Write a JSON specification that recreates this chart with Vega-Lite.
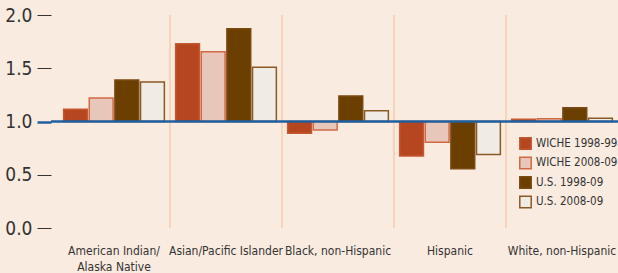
{
  "$schema": "https://vega.github.io/schema/vega-lite/v6.json",
  "width": 567,
  "height": 213,
  "autosize": {"type": "none"},
  "padding": {"left": 51, "top": 15, "right": 0, "bottom": 45},
  "background": "#FAEBE0",
  "config": {
    "view": {"stroke": null},
    "font": "DejaVu Sans Condensed, DejaVu Sans, sans-serif"
  },
  "datasets": {
    "bars": [
      {"group": "American Indian/Alaska Native", "series": "WICHE 1998-99", "value": 1.115},
      {"group": "American Indian/Alaska Native", "series": "WICHE 2008-09", "value": 1.22},
      {"group": "American Indian/Alaska Native", "series": "U.S. 1998-09", "value": 1.39},
      {"group": "American Indian/Alaska Native", "series": "U.S. 2008-09", "value": 1.37},
      {"group": "Asian/Pacific Islander", "series": "WICHE 1998-99", "value": 1.73},
      {"group": "Asian/Pacific Islander", "series": "WICHE 2008-09", "value": 1.655},
      {"group": "Asian/Pacific Islander", "series": "U.S. 1998-09", "value": 1.87},
      {"group": "Asian/Pacific Islander", "series": "U.S. 2008-09", "value": 1.51},
      {"group": "Black, non-Hispanic", "series": "WICHE 1998-99", "value": 0.89},
      {"group": "Black, non-Hispanic", "series": "WICHE 2008-09", "value": 0.92},
      {"group": "Black, non-Hispanic", "series": "U.S. 1998-09", "value": 1.24},
      {"group": "Black, non-Hispanic", "series": "U.S. 2008-09", "value": 1.10},
      {"group": "Hispanic", "series": "WICHE 1998-99", "value": 0.676},
      {"group": "Hispanic", "series": "WICHE 2008-09", "value": 0.805},
      {"group": "Hispanic", "series": "U.S. 1998-09", "value": 0.557},
      {"group": "Hispanic", "series": "U.S. 2008-09", "value": 0.69},
      {"group": "White, non-Hispanic", "series": "WICHE 1998-99", "value": 1.02},
      {"group": "White, non-Hispanic", "series": "WICHE 2008-09", "value": 1.025},
      {"group": "White, non-Hispanic", "series": "U.S. 1998-09", "value": 1.13},
      {"group": "White, non-Hispanic", "series": "U.S. 2008-09", "value": 1.03}
    ],
    "separators": [
      {"group": "Asian/Pacific Islander"},
      {"group": "Black, non-Hispanic"},
      {"group": "Hispanic"},
      {"group": "White, non-Hispanic"}
    ],
    "baseline": [{"ratio": 1}]
  },
  "layer": [
    {
      "data": {"name": "bars"},
      "mark": {"type": "bar", "strokeWidth": 1.5},
      "encoding": {
        "x": {
          "field": "group",
          "type": "nominal",
          "sort": null,
          "scale": {"paddingInner": 0, "paddingOuter": 0.03125, "align": 1},
          "axis": {
            "title": null,
            "labelAngle": 0,
            "bandPosition": 0.5,
            "domain": false,
            "ticks": false,
            "labelPadding": 26,
            "labelFontSize": 12,
            "labelColor": "#333333",
            "labelLineHeight": 16,
            "labelBaseline": "alphabetic",
            "labelAlign": "center",
            "labelExpr": "datum.value == 'American Indian/Alaska Native' ? ['American Indian/', 'Alaska Native'] : datum.label"
          }
        },
        "xOffset": {
          "field": "series",
          "type": "nominal",
          "sort": ["WICHE 1998-99", "WICHE 2008-09", "U.S. 1998-09", "U.S. 2008-09"],
          "scale": {"paddingInner": 0.07, "paddingOuter": 0.22}
        },
        "y": {
          "field": "value",
          "type": "quantitative",
          "scale": {"domain": [0, 2]},
          "axis": {
            "title": null,
            "values": [0, 0.5, 1, 1.5, 2],
            "format": ".1f",
            "domain": false,
            "grid": false,
            "tickSize": 14,
            "tickColor": {"condition": {"test": "datum.value == 1", "value": "#1F5FA0"}, "value": "#333333"},
            "tickWidth": {"condition": {"test": "datum.value == 1", "value": 2.5}, "value": 1},
            "labelPadding": 5,
            "labelFontSize": 19,
            "labelColor": "#333333"
          }
        },
        "y2": {"datum": 1},
        "fill": {
          "field": "series",
          "type": "nominal",
          "sort": ["WICHE 1998-99", "WICHE 2008-09", "U.S. 1998-09", "U.S. 2008-09"],
          "scale": {
            "domain": ["WICHE 1998-99", "WICHE 2008-09", "U.S. 1998-09", "U.S. 2008-09"],
            "range": ["#B5461F", "#E9C6BA", "#6B3F00", "#F0EBE4"]
          },
          "legend": {
            "title": null,
            "orient": "none",
            "legendX": 468,
            "legendY": 122,
            "symbolType": "square",
            "symbolSize": 130,
            "symbolStrokeWidth": 1.5,
            "labelFontSize": 11.5,
            "labelColor": "#333333",
            "rowPadding": 0.5,
            "labelOffset": 4
          }
        },
        "stroke": {
          "field": "series",
          "type": "nominal",
          "sort": ["WICHE 1998-99", "WICHE 2008-09", "U.S. 1998-09", "U.S. 2008-09"],
          "scale": {
            "domain": ["WICHE 1998-99", "WICHE 2008-09", "U.S. 1998-09", "U.S. 2008-09"],
            "range": ["#C45830", "#CF6A45", "#7B4A12", "#8A5A25"]
          },
          "legend": {
            "title": null,
            "orient": "none",
            "legendX": 468,
            "legendY": 122,
            "symbolType": "square",
            "symbolSize": 130,
            "symbolStrokeWidth": 1.5,
            "labelFontSize": 11.5,
            "labelColor": "#333333",
            "rowPadding": 0.5,
            "labelOffset": 4
          }
        }
      }
    },
    {
      "data": {"name": "separators"},
      "mark": {"type": "rule", "color": "#F3CDAE", "strokeWidth": 1.5},
      "encoding": {
        "x": {"field": "group", "type": "nominal", "bandPosition": 0}
      }
    },
    {
      "data": {"name": "baseline"},
      "mark": {"type": "rule", "color": "#1F5FA0", "strokeWidth": 2.5},
      "encoding": {"y": {"field": "ratio", "type": "quantitative"}}
    }
  ]
}
